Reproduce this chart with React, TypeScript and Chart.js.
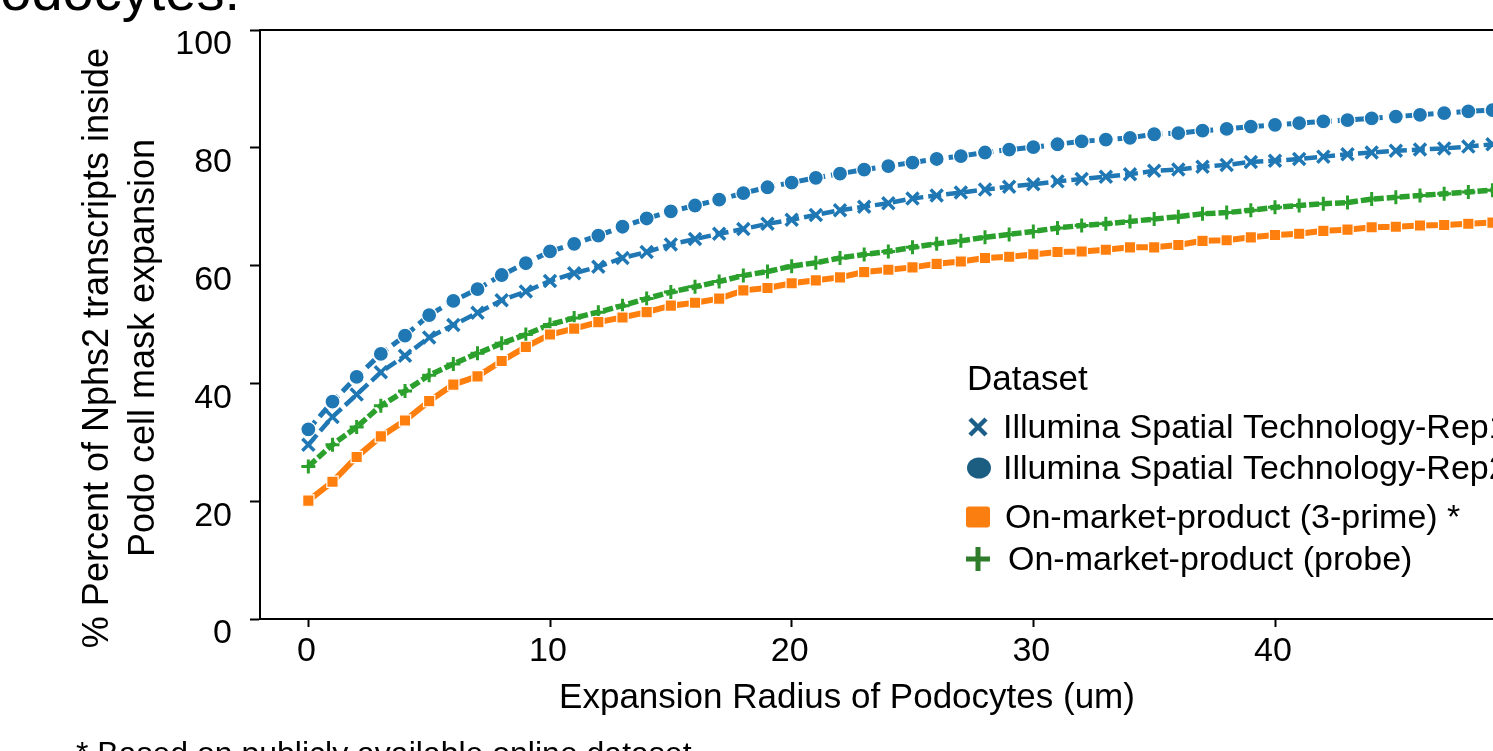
import React, { useEffect, useRef } from 'react';
import { Chart, registerables } from 'chart.js';

Chart.register(...registerables);

const xValues = [0, 1, 2, 3, 4, 5, 6, 7, 8, 9, 10, 11, 12, 13, 14, 15, 16, 17, 18, 19, 20, 21, 22, 23, 24, 25, 26, 27, 28, 29, 30, 31, 32, 33, 34, 35, 36, 37, 38, 39, 40, 41, 42, 43, 44, 45, 46, 47, 48, 49, 50];

const rep1Values = [29.6, 34.3, 38.1, 41.9, 44.7, 47.8, 49.9, 52.0, 54.1, 55.6, 57.4, 58.7, 59.8, 61.3, 62.3, 63.6, 64.5, 65.4, 66.2, 67.1, 67.8, 68.6, 69.4, 70.0, 70.6, 71.4, 71.9, 72.4, 72.9, 73.4, 73.8, 74.3, 74.7, 75.1, 75.5, 76.1, 76.3, 76.8, 77.1, 77.6, 77.8, 78.1, 78.5, 78.9, 79.2, 79.5, 79.7, 79.9, 80.2, 80.6, 80.9];

const rep2Values = [32.2, 36.9, 41.1, 45.0, 48.1, 51.6, 54.0, 56.0, 58.4, 60.4, 62.4, 63.7, 65.1, 66.6, 68.0, 69.2, 70.2, 71.2, 72.3, 73.3, 74.1, 74.9, 75.6, 76.3, 76.9, 77.5, 78.1, 78.6, 79.2, 79.7, 80.1, 80.6, 81.1, 81.4, 81.7, 82.3, 82.5, 82.9, 83.2, 83.6, 83.9, 84.2, 84.5, 84.7, 85.0, 85.3, 85.6, 85.9, 86.2, 86.4, 86.7];

const threePrimeValues = [20.1, 23.3, 27.5, 31.0, 33.7, 37.0, 39.8, 41.2, 43.8, 46.2, 48.3, 49.3, 50.4, 51.2, 52.1, 53.2, 53.7, 54.4, 55.8, 56.2, 57.0, 57.5, 58.0, 58.9, 59.3, 59.7, 60.3, 60.7, 61.3, 61.5, 61.9, 62.3, 62.4, 62.7, 63.1, 63.1, 63.5, 64.2, 64.3, 64.8, 65.2, 65.4, 65.9, 66.1, 66.5, 66.6, 66.8, 66.9, 67.1, 67.3, 67.5];

const probeValues = [25.9, 29.6, 32.6, 36.2, 38.7, 41.4, 43.3, 45.1, 46.8, 48.3, 50.0, 51.1, 52.1, 53.2, 54.4, 55.5, 56.4, 57.3, 58.3, 59.0, 59.9, 60.5, 61.3, 61.9, 62.4, 63.1, 63.7, 64.2, 64.8, 65.3, 65.8, 66.4, 66.8, 67.1, 67.5, 67.9, 68.3, 68.8, 69.0, 69.4, 69.9, 70.2, 70.5, 70.7, 71.3, 71.6, 71.9, 72.2, 72.5, 72.8, 73.1];

const seriesNames = [
  'Illumina Spatial Technology-Rep1',
  'Illumina Spatial Technology-Rep2',
  'On-market-product (3-prime) *',
  'On-market-product (probe)',
];

const xTickValues = [0, 10, 20, 30, 40, 50];
const yTickValues = [0, 20, 40, 60, 80, 100];

const legendTitle = 'Dataset';
const xAxisTitle = 'Expansion Radius of Podocytes (um)';
const yAxisTitleLines = ['% Percent of Nphs2 transcripts inside', 'Podo cell mask expansion'];
const chartTitle = 'Podocytes.';
const footnote = '* Based on publicly available online dataset';

const FONT = '"Liberation Sans", Arial, sans-serif';

const BLUE = '#1f77b4';
const ORANGE = '#ff7f0e';
const GREEN = '#2ca02c';

const toPoints = (ys: number[]) => xValues.map((x, i) => ({ x, y: ys[i] }));

const overlayPlugin = {
  id: 'overlay',
  afterDraw(chart: any) {
    const ctx: CanvasRenderingContext2D = chart.ctx;
    const a = chart.chartArea;
    ctx.save();

    // top spine
    ctx.strokeStyle = '#000';
    ctx.lineWidth = 2;
    ctx.beginPath();
    ctx.moveTo(a.left - 1, a.top);
    ctx.lineTo(a.right, a.top);
    ctx.stroke();

    ctx.fillStyle = '#000';

    // cropped title
    ctx.font = `56px ${FONT}`;
    ctx.textAlign = 'right';
    ctx.textBaseline = 'alphabetic';
    ctx.fillText(chartTitle, 240, 10);

    // y-axis title (two lines)
    ctx.font = `36px ${FONT}`;
    ctx.textAlign = 'center';
    const yBaselines = [108, 154];
    yAxisTitleLines.forEach((line, i) => {
      ctx.save();
      ctx.translate(yBaselines[i], 348);
      ctx.rotate(-Math.PI / 2);
      ctx.fillText(line, 0, 0);
      ctx.restore();
    });

    // x-axis title
    ctx.font = `35px ${FONT}`;
    ctx.textAlign = 'center';
    ctx.fillText(xAxisTitle, 847, 708);

    // footnote
    ctx.font = `32px ${FONT}`;
    ctx.textAlign = 'left';
    ctx.fillText(footnote, 76, 764);

    // legend
    ctx.font = `35px ${FONT}`;
    ctx.textAlign = 'left';
    ctx.fillText(legendTitle, 967, 390);

    ctx.font = `34px ${FONT}`;
    const baselines = [438, 479, 528, 570];
    const textX = [1003, 1003, 1005, 1008];
    const mx = 978;

    // Rep1: x marker
    {
      const cy = baselines[0] - 11;
      ctx.strokeStyle = '#1b5f88';
      ctx.lineWidth = 4.5;
      ctx.lineCap = 'butt';
      ctx.beginPath();
      ctx.moveTo(mx - 8, cy - 8);
      ctx.lineTo(mx + 8, cy + 8);
      ctx.moveTo(mx + 8, cy - 8);
      ctx.lineTo(mx - 8, cy + 8);
      ctx.stroke();
    }
    // Rep2: ellipse
    {
      const cy = baselines[1] - 11;
      ctx.fillStyle = '#1b5e82';
      ctx.beginPath();
      ctx.ellipse(mx + 1, cy, 12, 10.5, 0, 0, Math.PI * 2);
      ctx.fill();
    }
    // 3-prime: square
    {
      const cy = baselines[2] - 11;
      ctx.fillStyle = '#fb7f10';
      ctx.beginPath();
      const w = 24, h = 21, r = 3;
      const x0 = mx - w / 2, y0 = cy - h / 2;
      ctx.moveTo(x0 + r, y0);
      ctx.lineTo(x0 + w - r, y0);
      ctx.quadraticCurveTo(x0 + w, y0, x0 + w, y0 + r);
      ctx.lineTo(x0 + w, y0 + h - r);
      ctx.quadraticCurveTo(x0 + w, y0 + h, x0 + w - r, y0 + h);
      ctx.lineTo(x0 + r, y0 + h);
      ctx.quadraticCurveTo(x0, y0 + h, x0, y0 + h - r);
      ctx.lineTo(x0, y0 + r);
      ctx.quadraticCurveTo(x0, y0, x0 + r, y0);
      ctx.fill();
    }
    // probe: plus
    {
      const cy = baselines[3] - 11;
      ctx.strokeStyle = '#2f7d2b';
      ctx.lineWidth = 5;
      ctx.beginPath();
      ctx.moveTo(mx - 12, cy);
      ctx.lineTo(mx + 12, cy);
      ctx.moveTo(mx, cy - 12);
      ctx.lineTo(mx, cy + 12);
      ctx.stroke();
    }

    ctx.fillStyle = '#000';
    seriesNames.forEach((name, i) => {
      ctx.fillText(name, textX[i], baselines[i]);
    });

    ctx.restore();
  },
};

export default function App() {
  const canvasRef = useRef<HTMLCanvasElement | null>(null);

  useEffect(() => {
    const canvas = canvasRef.current;
    if (!canvas) return;

    const fixTicks = (values: number[]) => (scale: any) => {
      scale.ticks = values.map((v) => ({ value: v }));
    };

    const chart = new Chart(canvas, {
      type: 'line',
      data: {
        datasets: [
          {
            label: seriesNames[0],
            data: toPoints(rep1Values),
            borderColor: BLUE,
            borderWidth: 4.5,
            borderDash: [13, 5],
            pointStyle: 'crossRot',
            pointRadius: 8.5,
            pointBorderColor: BLUE,
            pointBackgroundColor: BLUE,
            pointBorderWidth: 3.5,
            fill: false,
          },
          {
            label: seriesNames[1],
            data: toPoints(rep2Values),
            borderColor: BLUE,
            borderWidth: 5,
            borderDash: [11, 6],
            pointStyle: 'circle',
            pointRadius: 7.5,
            pointBackgroundColor: BLUE,
            pointBorderColor: '#ffffff',
            pointBorderWidth: 1.2,
            fill: false,
          },
          {
            label: seriesNames[2],
            data: toPoints(threePrimeValues),
            borderColor: ORANGE,
            borderWidth: 6,
            pointStyle: 'rect',
            pointRadius: 8,
            pointBackgroundColor: ORANGE,
            pointBorderColor: '#ffffff',
            pointBorderWidth: 1.2,
            fill: false,
          },
          {
            label: seriesNames[3],
            data: toPoints(probeValues),
            borderColor: GREEN,
            borderWidth: 5.5,
            borderDash: [10, 3],
            pointStyle: 'cross',
            pointRadius: 7,
            pointBorderColor: GREEN,
            pointBackgroundColor: GREEN,
            pointBorderWidth: 3,
            fill: false,
          },
        ],
      },
      options: {
        responsive: false,
        devicePixelRatio: 1,
        animation: false,
        layout: { padding: { left: 0, top: 30, right: 35, bottom: 0 } },
        plugins: {
          legend: { display: false },
          tooltip: { enabled: false },
          title: { display: false },
        },
        scales: {
          x: {
            type: 'linear',
            min: -2,
            max: 52,
            afterBuildTicks: fixTicks(xTickValues),
            afterFit: (scale: any) => {
              scale.height = 132;
              scale.paddingLeft = 0;
              scale.paddingRight = 0;
            },
            grid: {
              drawOnChartArea: false,
              drawTicks: true,
              tickLength: 8,
              tickWidth: 2,
              tickColor: '#000',
            },
            border: { display: true, color: '#000', width: 2 },
            ticks: {
              color: '#000',
              font: { family: FONT, size: 34 },
              padding: 4,
              labelOffset: -2,
              maxRotation: 0,
              autoSkip: false,
            },
          },
          y: {
            type: 'linear',
            min: 0,
            max: 100,
            afterBuildTicks: fixTicks(yTickValues),
            afterFit: (scale: any) => {
              scale.width = 260;
              scale.paddingTop = 0;
              scale.paddingBottom = 0;
            },
            grid: {
              drawOnChartArea: false,
              drawTicks: true,
              tickLength: 10,
              tickWidth: 2,
              tickColor: '#000',
            },
            border: { display: true, color: '#000', width: 2 },
            ticks: {
              color: '#000',
              font: { family: FONT, size: 34 },
              padding: 18,
              labelOffset: 15,
              autoSkip: false,
            },
          },
        },
      },
      plugins: [overlayPlugin],
    } as any);

    return () => {
      chart.destroy();
    };
  }, []);

  return (
    <div
      style={{
        position: 'fixed',
        left: 0,
        top: 0,
        width: 1493,
        height: 751,
        overflow: 'hidden',
        background: '#ffffff',
      }}
    >
      <canvas ref={canvasRef} width={1600} height={751} style={{ display: 'block', width: 1600, height: 751 }} />
    </div>
  );
}
